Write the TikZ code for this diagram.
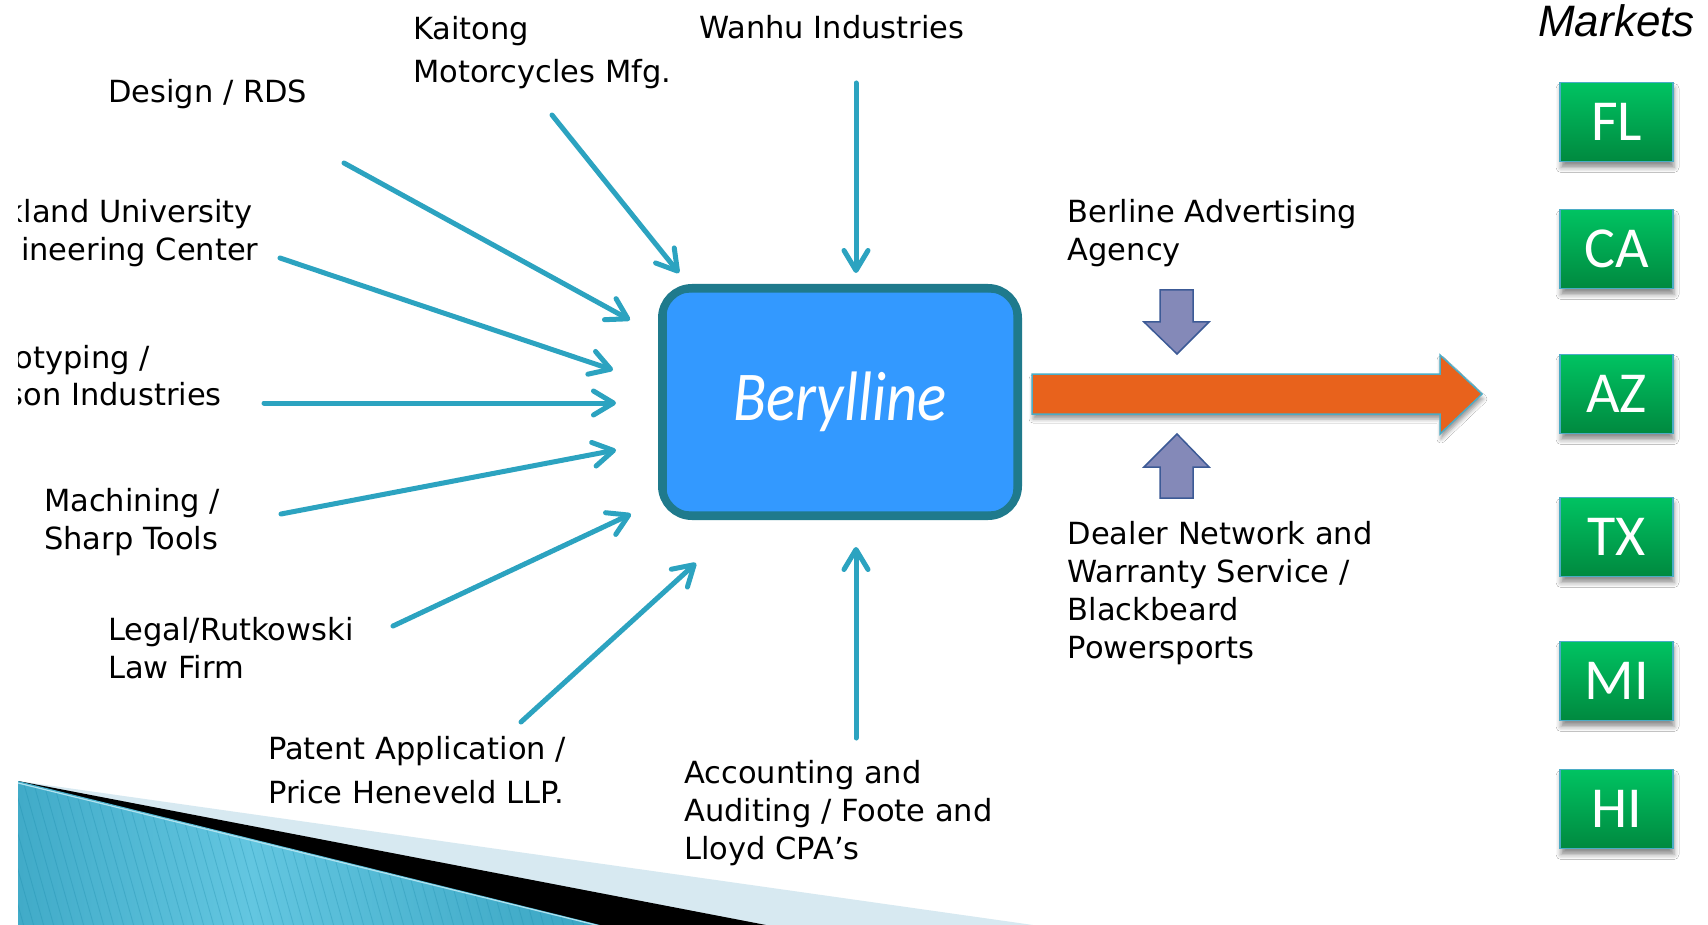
\documentclass[tikz,border=0pt]{standalone}
\usepackage{fontspec}
\setmainfont{DejaVu Sans}
\newfontfamily\carlfont{Carlito}
\newfontfamily\arialfont{Liberation Sans}
\usetikzlibrary{arrows.meta,shadows.blur}
\definecolor{feedteal}{HTML}{2CA3C0}
\definecolor{corefill}{HTML}{3399FF}
\definecolor{coreline}{HTML}{1F7A8C}
\definecolor{flowor}{HTML}{E8621C}
\definecolor{flowedge}{HTML}{4BACC6}
\definecolor{lilac}{HTML}{8489B8}
\definecolor{lilacedge}{HTML}{3C5A96}
\definecolor{greentop}{HTML}{00C362}
\definecolor{greenbot}{HTML}{00893F}
\definecolor{bandlight}{HTML}{D7E9F1}
\definecolor{tealA}{HTML}{1689AA}
\definecolor{tealB}{HTML}{63C6E0}
\pgfdeclarehorizontalshading{decosh}{100bp}{color(0bp)=(tealA); color(45bp)=(tealB); color(100bp)=(tealA)}
\begin{document}
\begin{tikzpicture}[x=1pt,y=-1pt,
  lbl/.style={anchor=base west, align=left, inner sep=0pt, font=\fontsize{30.5}{38}\selectfont},
  feed/.style={draw=feedteal, line width=5pt, line cap=round, -{Straight Barb[length=20pt,width=24pt,round]}},
  mkt/.style={minimum width=113pt, minimum height=79pt, inner sep=0pt, top color=greentop, bottom color=greenbot, draw=flowedge, line width=1.2pt, text=white, font=\carlfont\fontsize{58}{58}\selectfont, blur shadow={shadow xshift=1pt, shadow yshift=-6pt, shadow blur radius=5pt, shadow opacity=45}},
  blockar/.style={fill=lilac, draw=lilacedge, line width=1.5pt, line join=miter}
]
\useasboundingbox (0,0) rectangle (1708,925);
\fill[white] (0,0) rectangle (1708,925);

% bottom-left decoration
\fill[bandlight] (18,781) -- (1033,925) -- (18,925) -- cycle;
\fill[black] (18,781) -- (766,925) -- (18,925) -- cycle;
\shade[shading=decosh] (18,781) -- (600,925) -- (18,925) -- cycle;
\begin{scope}
  \clip (18,781) -- (600,925) -- (18,925) -- cycle;
  \foreach \k in {0,...,70} {
    \draw[tealA, opacity=0.3, line width=0.8pt] ({\k*10-40},770) -- ++(45,160);
  }
\end{scope}
\draw[tealB!50!white, line width=1.2pt] (18,783) -- (600,926);

% central box
\node[draw=coreline, line width=8pt, fill=corefill, rounded corners=30pt,
      minimum width=356pt, minimum height=228pt, inner sep=0pt, text=white,
      font=\carlfont\itshape\fontsize{70}{70}\selectfont] (core) at (840,402)
      {\scalebox{0.87}[1]{Berylline}};
\draw[coreline, line width=2.5pt, rounded corners=23pt]
  ([shift={(7.5,7.5)}]core.north west) rectangle ([shift={(-7.5,-7.5)}]core.south east);

% labels (anchor = baseline of last line)
\begin{scope}
\clip (18,0) rectangle (1708,925);
\node[lbl] (design) at (108,103) {Design / RDS};
\node[lbl, font=\fontsize{30.5}{43.5}\selectfont] (kaitong) at (413,83) {Kaitong\\Motorcycles Mfg.};
\node[lbl] (wanhu) at (699,39) {Wanhu Industries};
\node[lbl] (oakland) at (-37,261) {Oakland University\\Engineering Center};
\node[lbl, anchor=base east] (proto) at (150,368) {Prototyping /};
\node[lbl, anchor=base east] (protob) at (222,405) {son Industries};
\node[lbl] (machining) at (44,549) {Machining /\\Sharp Tools};
\node[lbl] (legal) at (108,678) {Legal/Rutkowski\\Law Firm};
\node[lbl, font=\fontsize{30.5}{43.5}\selectfont] (patent) at (268,803) {Patent Application /\\Price Heneveld LLP.};
\node[lbl] (accounting) at (684,859) {Accounting and\\Auditing / Foote and\\Lloyd CPA’s};
\node[lbl] (berline) at (1067.5,261) {Berline Advertising\\Agency};
\node[lbl] (dealer) at (1067.5,658) {Dealer Network and\\Warranty Service /\\Blackbeard\\Powersports};
\end{scope}

% feeder arrows
\coordinate (designS) at (344,163);   \coordinate (designT) at (630,320);
\coordinate (kaitongS) at (552,115);  \coordinate (kaitongT) at (679,273);
\coordinate (wanhuS) at (856,83);     \coordinate (wanhuT) at (856,273);
\coordinate (oaklandS) at (280,258);  \coordinate (oaklandT) at (613,370);
\coordinate (protoS) at (264,403);    \coordinate (protoT) at (616,403);
\coordinate (machS) at (281,514);     \coordinate (machT) at (616,450);
\coordinate (legalS) at (393,626);    \coordinate (legalT) at (631,514);
\coordinate (patentS) at (521,722);   \coordinate (patentT) at (696,563);
\coordinate (acctS) at (856,738);     \coordinate (acctT) at (856,547);
\draw[feed] (designS) -- (designT);
\draw[feed] (kaitongS) -- (kaitongT);
\draw[feed] (wanhuS) -- (wanhuT);
\draw[feed] (oaklandS) -- (oaklandT);
\draw[feed] (protoS) -- (protoT);
\draw[feed] (machS) -- (machT);
\draw[feed] (legalS) -- (legalT);
\draw[feed] (patentS) -- (patentT);
\draw[feed] (acctS) -- (acctT);

% orange flow arrow
\path[fill=flowor, draw=flowedge, line width=1.5pt, line join=miter,
      blur shadow={shadow xshift=1pt, shadow yshift=-5pt, shadow blur radius=4pt, shadow opacity=40}]
  (1032,374) -- (1440,374) -- (1440,355) -- (1482,394) -- (1440,434) -- (1440,414) -- (1032,414) -- cycle;

% purple block arrows
\draw[blockar] (1160,290) -- (1193,290) -- (1193,322) -- (1209,322) -- (1177,354) -- (1144,322) -- (1160,322) -- cycle;
\draw[blockar] (1160,498) -- (1193,498) -- (1193,467) -- (1209,467) -- (1177,434) -- (1144,467) -- (1160,467) -- cycle;

% markets
\node[anchor=base, inner sep=0pt, font=\arialfont\itshape\fontsize{44}{44}\selectfont] (markets) at (1616.5,37) {Markets};
\node[mkt] (fl) at (1616.5,122) {FL};
\node[mkt] (ca) at (1616.5,249) {CA};
\node[mkt] (az) at (1616.5,394) {AZ};
\node[mkt] (tx) at (1616.5,537) {TX};
\node[mkt] (mi) at (1616.5,681) {MI};
\node[mkt] (hi) at (1616.5,809) {HI};
\end{tikzpicture}
\end{document}
